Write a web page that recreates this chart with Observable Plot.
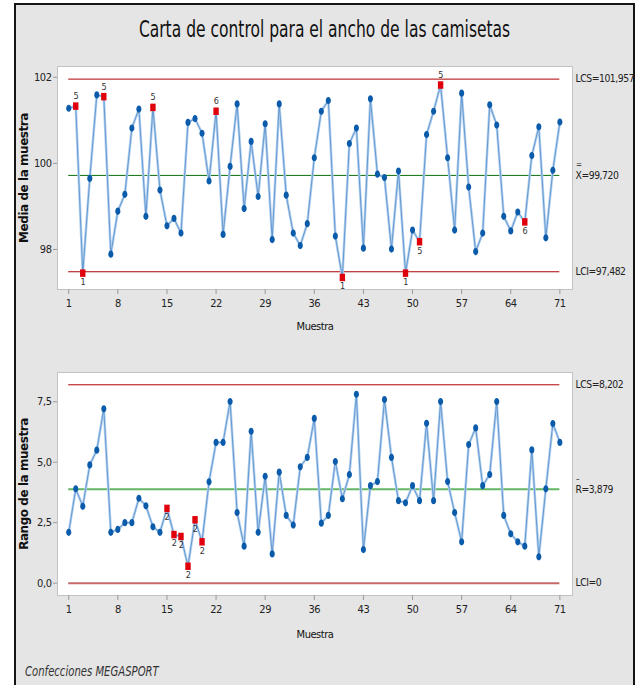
<!DOCTYPE html>
<html><head><meta charset="utf-8">
<script src="https://cdn.jsdelivr.net/npm/d3@7"></script>
<script src="https://cdn.jsdelivr.net/npm/@observablehq/plot@0.6"></script>
<style>
html,body{margin:0;padding:0;background:#fff;}
#page{position:relative;width:638px;height:685px;overflow:hidden;background:#fff;}
#frame{position:absolute;left:14px;top:3px;width:621px;height:720px;border:2px solid #151515;background:#e5e5e5;box-sizing:border-box;}
#title{position:absolute;left:14px;width:621px;top:16px;text-align:center;font-family:"DejaVu Sans Condensed",sans-serif;font-size:23px;color:#111;}
#title span{display:inline-block;transform:scaleX(0.75);transform-origin:center;}
#chart1,#chart2{position:absolute;left:0;}
#chart1{top:0;}
#chart2{top:340px;}
#footer{position:absolute;left:25px;top:663px;font-family:"DejaVu Sans Condensed",sans-serif;font-style:italic;font-size:14px;color:#333;transform:scaleX(0.8);transform-origin:left center;}
svg{overflow:visible;}
</style>
</head><body>
<div id="page">
  <div id="frame"></div>
  <div id="title"><span id="titleText"></span></div>
  <div id="chart1"></div>
  <div id="chart2"></div>
  <div id="footer"></div>
</div>
<script>
// ---- data ----
const samples = d3.range(1, 72);
const meanValues = [101.28,101.33,97.45,99.65,101.59,101.55,97.89,98.89,99.28,100.82,
  101.26,98.77,101.30,99.38,98.55,98.72,98.38,100.95,101.04,100.70,
  99.59,101.21,98.35,99.93,101.38,98.95,100.51,99.23,100.92,98.23,
  101.38,99.26,98.38,98.09,98.60,100.13,101.21,101.46,98.31,97.35,
  100.46,100.82,98.03,101.50,99.75,99.67,98.01,99.82,97.45,98.45,
  98.18,100.67,101.21,101.82,100.13,98.45,101.63,99.45,97.95,98.38,
  101.36,100.89,98.77,98.43,98.87,98.64,100.18,100.85,98.27,99.84,100.96];
const rangeValues = [2.10,3.90,3.18,4.89,5.50,7.21,2.10,2.22,2.50,2.50,
  3.51,3.20,2.33,2.10,3.09,2.01,1.93,0.70,2.62,1.71,
  4.19,5.82,5.82,7.51,2.92,1.53,6.28,2.10,4.42,1.21,
  4.59,2.80,2.40,4.81,5.20,6.81,2.48,2.80,5.03,3.49,
  4.49,7.81,1.39,4.03,4.20,7.59,5.20,3.41,3.32,4.03,
  3.41,6.61,3.41,7.51,4.20,2.92,1.71,5.73,6.42,4.03,
  4.49,7.51,2.80,2.04,1.71,1.53,5.51,1.09,3.90,6.60,5.82];
const meanFlagSamples = [2,3,6,13,22,40,49,51,54,66];
const meanFlagTests   = ["5","1","5","5","6","1","1","5","5","6"];
const rangeFlagSamples = [15,16,17,18,19,20];
const rangeFlagTests   = ["2","2","2","2","2","2"];
const meanLimits = {lcs: 101.957, center: 99.720, lci: 97.482};
const rangeLimits = {lcs: 8.202, center: 3.879, lci: 0};
const xTicks = [1,8,15,22,29,36,43,50,57,64,71];
const meanTicks = [98,100,102];
const rangeTicks = [0,2.5,5,7.5];
const title = "Carta de control para el ancho de las camisetas";
const footer = "Confecciones MEGASPORT";
const xLabel = "Muestra";
const meanLabel = "Media de la muestra";
const rangeLabel = "Rango de la muestra";

document.getElementById("titleText").textContent = title;
document.getElementById("footer").textContent = footer;

// ---- helpers ----
const narrow = '"DejaVu Sans Condensed",sans-serif';
const comma = d => d === 0 ? "0" : d3.format(".3f")(d).replace(".", ",");
const ellipse = {draw(ctx, size){
  const r = Math.sqrt(size / Math.PI), rx = r * 0.85, ry = r * 1.2, k = 0.5523;
  ctx.moveTo(rx, 0);
  ctx.bezierCurveTo(rx, ry*k, rx*k, ry, 0, ry);
  ctx.bezierCurveTo(-rx*k, ry, -rx, ry*k, -rx, 0);
  ctx.bezierCurveTo(-rx, -ry*k, -rx*k, -ry, 0, -ry);
  ctx.bezierCurveTo(rx*k, -ry, rx, -ry*k, rx, 0);
  ctx.closePath();
}};
const tallRect = {draw(ctx, size){
  const r = Math.sqrt(size / Math.PI), w = r * 1.8, h = r * 2.5;
  ctx.rect(-w/2, -h/2, w, h);
}};

function controlChart({values, flags, tests, limits, ticks, tickFmt, yDomain, height, marginTop, marginBottom, ylab, xlabDy, centerSym, centerStroke, centerWidth, lciStroke, lciWidth, barText, barDy, barSize}) {
  const data = samples.map((s, i) => ({sample: s, value: values[i]}));
  const flagged = flags.map((s, i) => ({sample: s, value: values[s - 1], test: tests[i]}));
  const normal = data.filter(d => !flags.includes(d.sample));
  const above = flagged.filter(d => d.value > limits.center);
  const below = flagged.filter(d => d.value <= limits.center);
  const first = samples[0], last = samples[samples.length - 1];
  const limRows = [
    {value: limits.lcs, label: "LCS=" + comma(limits.lcs)},
    {value: limits.center, label: centerSym + "=" + comma(limits.center)},
    {value: limits.lci, label: "LCI=" + comma(limits.lci)}
  ];
  return Plot.plot({
    width: 638, height, marginLeft: 57, marginRight: 66, marginTop, marginBottom,
    x: {domain: [-0.6, 72.8], axis: null},
    y: {domain: yDomain, axis: null},
    style: {background: "transparent", fontFamily: narrow, fontSize: "11px", color: "#222", letterSpacing: "-0.45px"},
    marks: [
      Plot.frame({fill: "white", stroke: "#c2c2c2"}),
      Plot.axisY(ticks, {label: null, tickSize: 4, tickPadding: 2, stroke: "#9a9a9a", fill: "#222", fontSize: 11, tickFormat: tickFmt}),
      Plot.axisX(xTicks, {label: null, tickSize: 5, tickPadding: 5, stroke: "#9a9a9a", fill: "#222", fontSize: 11, tickFormat: d => String(d)}),
      Plot.ruleY([limits.lcs], {x1: () => first, x2: () => last, stroke: "#b00000", strokeWidth: 1}),
      Plot.ruleY([limits.lci], {x1: () => first, x2: () => last, stroke: lciStroke, strokeWidth: lciWidth}),
      Plot.ruleY([limits.center], {x1: () => first, x2: () => last, stroke: centerStroke, strokeWidth: centerWidth}),
      Plot.line(data, {x: "sample", y: "value", stroke: "#b4d1ee", strokeWidth: 2.6}),
      Plot.line(data, {x: "sample", y: "value", stroke: "#4483c6", strokeWidth: 0.7}),
      Plot.dot(normal, {x: "sample", y: "value", symbol: ellipse, r: 3, fill: "#0b5bab", stroke: "none"}),
      Plot.dot(flagged, {x: "sample", y: "value", symbol: tallRect, r: 3, fill: "#e0000b", stroke: "none"}),
      Plot.text(above, {x: "sample", y: "value", text: "test", dy: -10, fontSize: 9, fill: "#333"}),
      Plot.text(below, {x: "sample", y: "value", text: "test", dy: 9, fontSize: 9, fill: "#333"}),
      Plot.text(limRows, {y: "value", text: "label", frameAnchor: "right", dx: 3, textAnchor: "start", fontSize: 10.3, fill: "#222"}),
      Plot.text([limits.center], {y: d => d, text: () => barText, frameAnchor: "right", dx: 3.5, dy: barDy, textAnchor: "start", fontSize: barSize, fill: "#222"}),
      Plot.text([xLabel], {frameAnchor: "bottom", dy: xlabDy, fontSize: 11, fill: "#111"}),
      Plot.text([ylab], {frameAnchor: "left", textAnchor: "middle", lineAnchor: "middle", dx: -33, rotate: -90, fontFamily: "DejaVu Sans", fontWeight: "bold", fontSize: 12, fill: "#111"})
    ]
  });
}

document.getElementById("chart1").append(controlChart({
  values: meanValues, flags: meanFlagSamples, tests: meanFlagTests, limits: meanLimits,
  ticks: meanTicks, tickFmt: d => String(d), yDomain: [97.07, 102.25],
  height: 340, marginTop: 66, marginBottom: 51, ylab: meanLabel, xlabDy: 40,
  centerSym: "X", centerStroke: "#0c6e0c", centerWidth: 1, lciStroke: "#b00000", lciWidth: 1,
  barText: "=", barDy: -11, barSize: 8
}));
document.getElementById("chart2").append(controlChart({
  values: rangeValues, flags: rangeFlagSamples, tests: rangeFlagTests, limits: rangeLimits,
  ticks: rangeTicks, tickFmt: d => d3.format(".1f")(d).replace(".", ","), yDomain: [-0.51, 8.71],
  height: 305, marginTop: 32, marginBottom: 50, ylab: rangeLabel, xlabDy: 42,
  centerSym: "R", centerStroke: "#64b664", centerWidth: 2, lciStroke: "#c46868", lciWidth: 2,
  barText: "–", barDy: -10, barSize: 8
}));
</script>
</body></html>
